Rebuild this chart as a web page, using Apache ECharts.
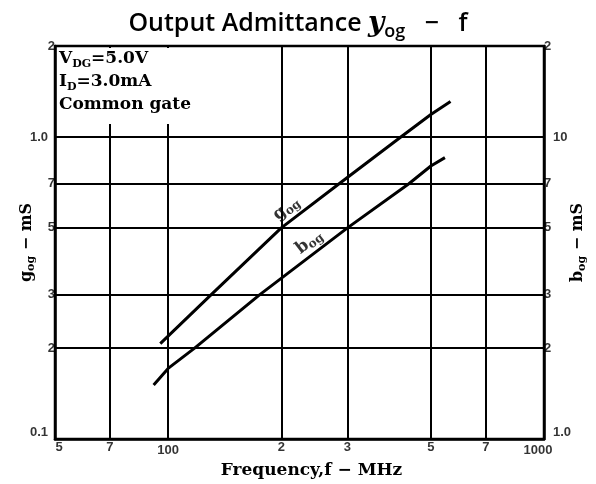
<!DOCTYPE html>
<html>
<head>
<meta charset="utf-8">
<script src="https://cdn.jsdelivr.net/npm/echarts@6/dist/echarts.min.js"></script>
<style>
  html, body { margin: 0; padding: 0; background: #fff; }
  #chart { width: 596px; height: 484px; }
</style>
</head>
<body>
<div id="chart"></div>
<script>
// Frequency sweep (MHz) and measured admittance parts
const gFreq = [95.3, 130, 200, 285, 416, 500, 564];
const gValues = [0.207, 0.3, 0.5, 0.7, 1.0, 1.186, 1.31];      // g_og, mS (left axis)
const bFreq = [91.5, 100, 117.6, 175, 300, 437, 500, 545];
const bValues = [1.51, 1.713, 2.0, 3.0, 5.0, 7.0, 8.01, 8.54];  // b_og, mS (right axis)

// Grid lines and tick labels
const xGrid = [70, 100, 200, 300, 500, 700];
const xTicks = [50, 70, 100, 200, 300, 500, 700, 1000];
const xTickLabels = ['5', '7', '100', '2', '3', '5', '7', '1000'];
const gGrid = [0.2, 0.3, 0.5, 0.7, 1.0];
const gTicks = [0.1, 0.2, 0.3, 0.5, 0.7, 1.0, 2];
const gTickLabels = ['0.1', '2', '3', '5', '7', '1.0', '2'];
const bTicks = [1, 2, 3, 5, 7, 10, 20];
const bTickLabels = ['1.0', '2', '3', '5', '7', '10', '2'];

const X_MIN = 50, X_MAX = 1000;
const G_MIN = 0.1, G_MAX = 2;
const B_MIN = 1, B_MAX = 20;

const serif = '"DejaVu Serif", "Liberation Serif", serif';
const tickFont = '"Liberation Sans Narrow", "Liberation Sans", Arial, sans-serif';

const tickStyle = { color: '#000', fontFamily: tickFont, fontWeight: 'bold', fontSize: 13 };

function tickSeries(name, yAxisIndex, data) {
  return {
    name, type: 'scatter', yAxisIndex, symbolSize: 0, silent: true, z: 5,
    data, label: { show: true }
  };
}

const xTickData = xTicks.map((v, i) => ({
  value: [v, G_MIN],
  label: Object.assign({
    formatter: xTickLabels[i], position: 'bottom',
    distance: (v === 100 || v === 1000) ? 5 : 2,
    offset: [v === 50 ? 4 : (v === 1000 ? -6 : 0), 0]
  }, tickStyle)
}));

const gTickData = gTicks.map((v, i) => {
  const major = (v === 0.1 || v === 1.0);
  return {
    value: [X_MIN, v],
    label: Object.assign({
      formatter: gTickLabels[i], position: 'left',
      distance: major ? 7 : 0,
      offset: [0, v === 0.1 ? -7 : 0]
    }, tickStyle)
  };
});

const bTickData = bTicks.map((v, i) => {
  const major = (v === 1 || v === 10);
  return {
    value: [X_MAX, v],
    label: Object.assign({
      formatter: bTickLabels[i], position: 'right',
      distance: major ? 9 : 0,
      offset: [0, v === 1 ? -7 : 0]
    }, tickStyle)
  };
});

const subRich = {
  m: { fontFamily: serif, fontWeight: 'bold', fontSize: 16, color: '#000', lineHeight: 20 },
  s: { fontFamily: serif, fontWeight: 'bold', fontSize: 11, color: '#000', lineHeight: 11, verticalAlign: 'bottom' }
};

const chart = echarts.init(document.getElementById('chart'));

chart.setOption({
  animation: false,
  backgroundColor: '#fff',
  title: {
    text: 'Output Admittance {y|y}{s|og}{t|   −   f}',
    left: 'center',
    top: 2,
    textStyle: {
      fontFamily: '"Open Sans", "Noto Sans", sans-serif',
      fontWeight: 600, fontSize: 25, color: '#000', lineHeight: 34,
      rich: {
        y: { fontFamily: serif, fontStyle: 'italic', fontSize: 28, color: '#000', lineHeight: 34 },
        s: { fontFamily: '"Open Sans", sans-serif', fontWeight: 600, fontSize: 18, color: '#000',
             verticalAlign: 'bottom', lineHeight: 18 },
        t: { fontFamily: '"Open Sans", sans-serif', fontWeight: 600, fontSize: 25, color: '#000', lineHeight: 34 }
      }
    }
  },
  grid: {
    left: 55, right: 51, top: 46, bottom: 43,
    show: true, borderColor: '#000', borderWidth: 2.5, backgroundColor: 'transparent'
  },
  xAxis: {
    type: 'log', logBase: 10, min: X_MIN, max: X_MAX,
    axisLine: { show: true, lineStyle: { color: '#000', width: 2.5 } },
    axisTick: { show: false }, axisLabel: { show: false }, splitLine: { show: false },
    minorTick: { show: false },
    name: 'Frequency,f − MHz', nameLocation: 'middle', nameGap: 23,
    nameTextStyle: { fontFamily: serif, fontWeight: 'bold', fontSize: 17, color: '#000', padding: [0, 0, 0, 24] }
  },
  yAxis: [
    {
      type: 'log', logBase: 10, min: G_MIN, max: G_MAX, position: 'left',
      axisLine: { show: true, lineStyle: { color: '#000', width: 2.5 } },
      axisTick: { show: false }, axisLabel: { show: false }, splitLine: { show: false },
      name: '{m|g}{s|og}{m| − mS}', nameLocation: 'middle', nameRotate: 90, nameGap: 18,
      nameTextStyle: { color: '#000', rich: subRich }
    },
    {
      type: 'log', logBase: 10, min: B_MIN, max: B_MAX, position: 'right',
      axisLine: { show: true, lineStyle: { color: '#000', width: 2.5 } },
      axisTick: { show: false }, axisLabel: { show: false }, splitLine: { show: false },
      name: '{m|b}{s|og}{m| − mS}', nameLocation: 'middle', nameRotate: 90, nameGap: 24,
      nameTextStyle: { color: '#000', rich: subRich }
    }
  ],
  graphic: [
    {
      // blank panel behind the operating-condition note
      type: 'rect', z: 50, silent: true,
      shape: { x: 57, y: 48, width: 143, height: 76 },
      style: { fill: '#fff' }
    },
    {
      type: 'text', z: 51, left: 59, top: 50, silent: true,
      style: {
        text: '{m|V}{s|DG}{m|=5.0V}\n{m|I}{s|D}{m|=3.0mA}\n{m|Common gate}',
        rich: {
          m: { fontFamily: serif, fontWeight: 'bold', fontSize: 17, fill: '#000', lineHeight: 23 },
          s: { fontFamily: serif, fontWeight: 'bold', fontSize: 11, fill: '#000', lineHeight: 11, verticalAlign: 'bottom' }
        }
      }
    }
  ],
  series: [
    {
      name: 'g_og', type: 'line', yAxisIndex: 0, z: 10,
      data: gFreq.map((f, i) => [f, gValues[i]]),
      showSymbol: false, smooth: false,
      lineStyle: { color: '#000', width: 3 },
      markLine: {
        silent: true, symbol: ['none', 'none'], label: { show: false },
        lineStyle: { color: '#000', width: 2, type: 'solid' },
        data: xGrid.map(v => ({ xAxis: v })).concat(gGrid.map(v => ({ yAxis: v })))
      }
    },
    {
      name: 'b_og', type: 'line', yAxisIndex: 1, z: 10,
      data: bFreq.map((f, i) => [f, bValues[i]]),
      showSymbol: false, smooth: false,
      lineStyle: { color: '#000', width: 3 }
    },
    {
      // curve captions
      name: 'captions', type: 'scatter', yAxisIndex: 0, symbolSize: 0, silent: true, z: 12,
      data: [
        { value: [206, 0.58], label: { formatter: '{m|g}{s|og}' } },
        { value: [237, 0.449], label: { formatter: '{m|b}{s|og}' } }
      ],
      label: {
        show: true, position: 'inside', rotate: 38,
        rich: {
          m: { fontFamily: serif, fontWeight: 'bold', fontSize: 17, color: '#000', lineHeight: 20 },
          s: { fontFamily: serif, fontWeight: 'bold', fontSize: 12, color: '#000', lineHeight: 12, verticalAlign: 'bottom' }
        }
      }
    },
    tickSeries('xTicks', 0, xTickData),
    tickSeries('gTicks', 0, gTickData),
    tickSeries('bTicks', 1, bTickData)
  ]
});
</script>
</body>
</html>
